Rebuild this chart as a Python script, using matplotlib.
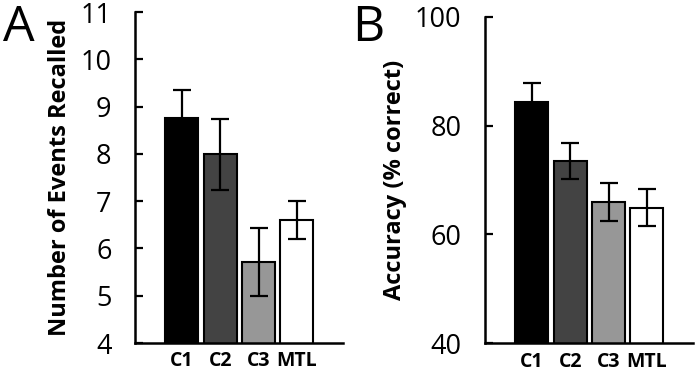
import matplotlib
matplotlib.use('Agg')
import matplotlib.pyplot as plt

plt.rcParams['font.family'] = ['Open Sans', 'DejaVu Sans']

groups = ['C1', 'C2', 'C3', 'MTL']
bar_colors = ['#000000', '#434343', '#979797', '#ffffff']

events_mean = [8.76, 7.99, 5.71, 6.60]
events_err = [0.60, 0.75, 0.72, 0.40]

acc_mean = [84.3, 73.5, 66.0, 64.9]
acc_err = [3.6, 3.3, 3.5, 3.4]


def draw_panel(ax, means, errs, ylim, yticks, ylabel):
    x = list(range(len(groups)))
    ax.bar(x, means, width=0.86, color=bar_colors, edgecolor='black',
           linewidth=1.5, zorder=2)
    ax.errorbar(x, means, yerr=errs, fmt='none', ecolor='black',
                elinewidth=1.6, capsize=6.5, capthick=1.6, zorder=3)
    ax.set_xlim(-1.22, 4.2)
    ax.set_ylim(*ylim)
    ax.set_yticks(yticks)
    ax.set_xticks(x)
    ax.set_xticklabels(groups, fontsize=14, fontweight='bold')
    ax.tick_params(axis='x', length=0, pad=6)
    ax.tick_params(axis='y', direction='in', length=6, width=1.6,
                   labelsize=19.5, pad=17)
    for s in ['top', 'right']:
        ax.spines[s].set_visible(False)
    for s in ['left', 'bottom']:
        ax.spines[s].set_linewidth(1.8)
    ax.set_ylabel(ylabel, fontsize=17, fontweight='bold', labelpad=6)
    return ax


fig = plt.figure(figsize=(6.98, 3.73), dpi=100)
ax1 = fig.add_axes([0.1934, 0.0804, 0.298, 0.887])
ax2 = fig.add_axes([0.6948, 0.0796, 0.298, 0.8756])

draw_panel(ax1, events_mean, events_err, (4, 11), range(4, 12),
           'Number of Events Recalled')
draw_panel(ax2, acc_mean, acc_err, (40, 100), [40, 60, 80, 100],
           'Accuracy (% correct)')

fig.text(0.004, 0.99, 'A', fontsize=36, va='top', ha='left')
fig.text(0.504, 0.99, 'B', fontsize=36, va='top', ha='left')

fig.savefig('out.png', dpi=100)
